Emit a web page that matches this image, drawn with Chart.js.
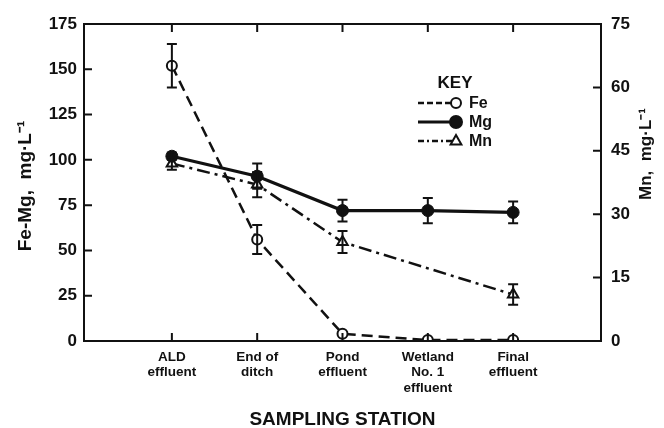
<!DOCTYPE html>
<html>
<head>
<meta charset="utf-8">
<script src="https://cdn.jsdelivr.net/npm/chart.js@4.4.1/dist/chart.umd.min.js"></script>
<style>
html,body{margin:0;padding:0;background:#fff;}
#wrap{width:664px;height:428px;position:relative;}
</style>
</head>
<body>
<div id="wrap"><canvas id="c" width="664" height="428"></canvas></div>
<script>
// ---- data ----
const categories = [['ALD','effluent'],['End of','ditch'],['Pond','effluent'],['Wetland','No. 1','effluent'],['Final','effluent']];
const feValues = [152, 56, 4, 0.5, 0.5];
const feErrors = [12, 8, 0, 0, 0];
const mgValues = [102, 91, 72, 72, 71];
const mgErrors = [2, 7, 6, 7, 6];
const mnValues = [42, 37, 23.4, null, 11];
const mnErrors = [1.5, 3, 2.6, null, 2.4];
const leftTicks = [0, 25, 50, 75, 100, 125, 150, 175];
const rightTicks = [0, 15, 30, 45, 60, 75];
const leftTitle = 'Fe-Mg,  mg\u00B7L\u207B\u00B9';
const rightTitle = 'Mn,  mg\u00B7L\u207B\u00B9';
const xTitle = 'SAMPLING STATION';
const keyTitle = 'KEY';

const INK = '#111';
const FONT = '"Liberation Sans", Arial, Helvetica, sans-serif';

const errorMap = [feErrors, mgErrors, mnErrors];

const framePlugin = {
  id: 'frame',
  afterDatasetsDraw(chart) {
    const ctx = chart.ctx;
    const a = chart.chartArea;
    const xs = chart.scales.x, yl = chart.scales.y, yr = chart.scales.y2;
    ctx.save();
    ctx.strokeStyle = INK;
    // error bars
    chart.data.datasets.forEach((ds, di) => {
      const errs = errorMap[di];
      const scale = chart.scales[ds.yAxisID];
      ctx.lineWidth = 2;
      ds.data.forEach((p, i) => {
        const v = p.y;
        const e = errs[i];
        if (v === null || !e) return;
        const x = xs.getPixelForValue(i);
        const y1 = scale.getPixelForValue(v + e);
        const y2 = scale.getPixelForValue(v - e);
        ctx.beginPath();
        ctx.moveTo(x, y1); ctx.lineTo(x, y2);
        ctx.moveTo(x - 5, y1); ctx.lineTo(x + 5, y1);
        ctx.moveTo(x - 5, y2); ctx.lineTo(x + 5, y2);
        ctx.stroke();
      });
    });
    // frame
    ctx.lineWidth = 2;
    ctx.strokeRect(a.left, a.top, a.right - a.left, a.bottom - a.top);
    // inward ticks
    const L = 8;
    ctx.beginPath();
    leftTicks.forEach(v => { const y = yl.getPixelForValue(v); if (v > 0 && v < 175) { ctx.moveTo(a.left, y); ctx.lineTo(a.left + L, y); } });
    rightTicks.forEach(v => { const y = yr.getPixelForValue(v); if (v > 0 && v < 75) { ctx.moveTo(a.right, y); ctx.lineTo(a.right - L, y); } });
    categories.forEach((c, i) => {
      const x = xs.getPixelForValue(i);
      ctx.moveTo(x, a.top); ctx.lineTo(x, a.top + L);
      ctx.moveTo(x, a.bottom); ctx.lineTo(x, a.bottom - L);
    });
    ctx.stroke();
    ctx.restore();
  },
  afterDraw(chart) {
    const ctx = chart.ctx;
    ctx.save();
    ctx.fillStyle = INK;
    ctx.textAlign = 'center';
    ctx.textBaseline = 'middle';
    // left title
    ctx.save();
    ctx.font = 'bold 19px ' + FONT;
    ctx.translate(26, 186);
    ctx.rotate(-Math.PI / 2);
    ctx.fillText(leftTitle, 0, 0);
    ctx.restore();
    // right title
    ctx.save();
    ctx.font = 'bold 17px ' + FONT;
    ctx.translate(646, 154);
    ctx.rotate(-Math.PI / 2);
    ctx.fillText(rightTitle, 0, 0);
    ctx.restore();
    // key
    ctx.font = 'bold 17px ' + FONT;
    ctx.fillText(keyTitle, 455, 83);
    const rows = [
      {ds: 0, y: 103},
      {ds: 1, y: 122},
      {ds: 2, y: 141}
    ];
    rows.forEach(r => {
      const ds = chart.data.datasets[r.ds];
      ctx.save();
      ctx.strokeStyle = INK;
      ctx.lineWidth = ds.borderWidth;
      ctx.setLineDash(ds.legendDash || []);
      ctx.beginPath();
      ctx.moveTo(418, r.y); ctx.lineTo(453, r.y);
      ctx.stroke();
      ctx.setLineDash([]);
      ctx.lineWidth = 2;
      const mx = 456;
      if (ds.pointStyle === 'triangle') {
        const rr = 6;
        ctx.fillStyle = '#fff';
        ctx.beginPath();
        ctx.moveTo(mx, r.y - rr); ctx.lineTo(mx + rr * 0.9, r.y + rr * 0.6); ctx.lineTo(mx - rr * 0.9, r.y + rr * 0.6); ctx.closePath();
        ctx.fill(); ctx.stroke();
      } else {
        ctx.fillStyle = ds.pointBackgroundColor;
        ctx.beginPath();
        ctx.arc(mx, r.y, ds.pointRadius, 0, Math.PI * 2);
        ctx.fill(); ctx.stroke();
      }
      ctx.restore();
      ctx.fillStyle = INK;
      ctx.textAlign = 'left';
      ctx.font = 'bold 16px ' + FONT;
      ctx.fillText(ds.label, 469, r.y + 1);
    });
    ctx.restore();
  }
};

new Chart(document.getElementById('c'), {
  type: 'line',
  data: {
    datasets: [
      {
        label: 'Fe', yAxisID: 'y',
        data: feValues.map((v, i) => ({x: i, y: v})),
        borderColor: INK, borderWidth: 2.5, borderDash: [11, 6], legendDash: [6, 3],
        pointStyle: 'circle', pointRadius: 5, pointBorderWidth: 2,
        pointBackgroundColor: '#fff', pointBorderColor: INK, tension: 0
      },
      {
        label: 'Mg', yAxisID: 'y',
        data: mgValues.map((v, i) => ({x: i, y: v})),
        borderColor: INK, borderWidth: 3.2,
        pointStyle: 'circle', pointRadius: 6, pointBorderWidth: 1,
        pointBackgroundColor: INK, pointBorderColor: INK, tension: 0
      },
      {
        label: 'Mn', yAxisID: 'y2',
        data: mnValues.map((v, i) => ({x: i, y: v})),
        borderColor: INK, borderWidth: 2.5, borderDash: [13, 5, 3, 5], legendDash: [6, 3, 2, 3],
        pointStyle: 'triangle', pointRadius: 6, pointBorderWidth: 2,
        pointBackgroundColor: '#fff', pointBorderColor: INK, tension: 0,
        spanGaps: true
      }
    ]
  },
  options: {
    responsive: false,
    animation: false,
    layout: {padding: {top: 24, left: 0, right: 0, bottom: 0}},
    plugins: {legend: {display: false}, tooltip: {enabled: false}},
    scales: {
      x: {
        type: 'linear', min: -1.03, max: 5.03,
        afterBuildTicks(s) { s.ticks = categories.map((c, i) => ({value: i})); },
        afterFit(s) { s.height = 87; },
        grid: {display: false, drawTicks: false},
        border: {display: false},
        ticks: {
          autoSkip: false, maxRotation: 0, padding: 9, color: INK,
          font: {family: FONT, size: 13.5, weight: 'bold', lineHeight: 1.12},
          callback: (v) => categories[v] || ''
        },
        title: {display: true, text: xTitle, color: INK, padding: {top: 0, bottom: -1},
          font: {family: FONT, size: 19, weight: 'bold', lineHeight: 1}}
      },
      y: {
        position: 'left', min: 0, max: 175,
        afterBuildTicks(s) { s.ticks = leftTicks.map(v => ({value: v})); },
        afterFit(s) { s.width = 84; },
        grid: {display: false, drawTicks: false},
        border: {display: false},
        ticks: {padding: 7, color: INK, font: {family: FONT, size: 17, weight: 'bold'}}
      },
      y2: {
        position: 'right', min: 0, max: 75,
        afterBuildTicks(s) { s.ticks = rightTicks.map(v => ({value: v})); },
        afterFit(s) { s.width = 63; },
        grid: {display: false, drawTicks: false},
        border: {display: false},
        ticks: {padding: 10, color: INK, font: {family: FONT, size: 17, weight: 'bold'}}
      }
    }
  },
  plugins: [framePlugin]
});
</script>
</body>
</html>
